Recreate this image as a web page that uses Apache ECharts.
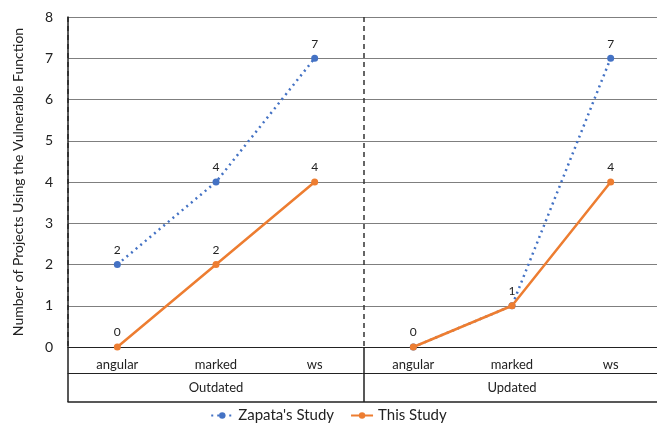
<!DOCTYPE html>
<html>
<head>
<meta charset="utf-8">
<script src="https://cdn.jsdelivr.net/npm/echarts@6/dist/echarts.min.js"></script>
<style>
  html, body { margin: 0; padding: 0; background: #fff; }
  #chart { width: 657px; height: 431px; }
</style>
</head>
<body>
<div id="chart"></div>
<script>
const categories = ["angular", "marked", "ws", "angular", "marked", "ws"];
const groups = ["Outdated", "Updated"];
const yTicks = [0, 1, 2, 3, 4, 5, 6, 7, 8];

// split per group so the line breaks between Outdated and Updated
const zapataOutdated = [2, 4, 7, null, null, null];
const zapataUpdated = [null, null, null, 0, 1, 7];
const thisOutdated = [0, 2, 4, null, null, null];
const thisUpdated = [null, null, null, 0, 1, 4];

const font = "Lato, 'Noto Sans', sans-serif";
const blue = "#4472C4";
const orange = "#ED7D31";

const chart = echarts.init(document.getElementById("chart"));

function lineSeries(name, data, color, dotted, z) {
  return {
    name: name,
    type: "line",
    xAxisIndex: 0,
    data: data,
    z: z,
    symbol: "circle",
    symbolSize: 7,
    connectNulls: false,
    itemStyle: { color: color },
    lineStyle: { color: color, width: 2.5, type: dotted ? [2, 4] : "solid" },
    label: {
      show: true,
      position: "top",
      distance: 5,
      color: "#222",
      fontSize: 12,
      fontFamily: font,
    },
    labelLayout: { hideOverlap: true },
  };
}

chart.setOption({
  animation: false,
  textStyle: { fontFamily: font },
  grid: { left: 68, right: -3, top: 17, bottom: 84, outerBoundsMode: "none", containLabel: false },
  legend: {
    bottom: 3,
    left: "center",
    itemGap: 16,
    itemWidth: 22,
    itemHeight: 8,
    textStyle: { fontSize: 15, color: "#222", fontFamily: font },
    data: ["Zapata's Study", "This Study"],
  },
  xAxis: [
    {
      type: "category",
      data: categories,
      position: "bottom",
      offset: 0,
      axisLine: { show: true, lineStyle: { color: "#222", width: 1 } },
      axisTick: { show: false },
      axisLabel: { margin: 11, fontSize: 13, color: "#222", fontFamily: font },
      splitLine: { show: false },
    },
    {
      type: "category",
      data: categories,
      position: "bottom",
      offset: 26,
      axisLine: { show: true, lineStyle: { color: "#222", width: 1 } },
      axisTick: { show: false },
      axisLabel: { show: false },
      splitLine: { show: false },
    },
    {
      type: "category",
      data: groups,
      position: "bottom",
      offset: 55,
      axisLine: { show: true, lineStyle: { color: "#222", width: 1.5 } },
      axisTick: { show: true, inside: true, length: 55, lineStyle: { color: "#222", width: 1.5 } },
      axisLabel: { inside: true, margin: 8, fontSize: 13, color: "#222", fontFamily: font },
      splitLine: { show: true, lineStyle: { color: "#333", width: 1.5, type: [5, 4] } },
    },
  ],
  yAxis: {
    type: "value",
    min: yTicks[0],
    max: yTicks[yTicks.length - 1],
    interval: 1,
    name: "Number of Projects Using the Vulnerable Function",
    nameLocation: "middle",
    nameGap: 43,
    nameTextStyle: { fontSize: 14, color: "#222", fontFamily: font },
    axisLine: { show: true, lineStyle: { color: "#222", width: 1.5 } },
    axisTick: { show: false },
    axisLabel: { margin: 15, fontSize: 14, color: "#222", fontFamily: font },
    splitLine: { show: true, lineStyle: { color: "#7f7f7f", width: 1 } },
  },
  series: [
    lineSeries("Zapata's Study", zapataOutdated, blue, true, 2),
    lineSeries("Zapata's Study", zapataUpdated, blue, true, 2),
    lineSeries("This Study", thisOutdated, orange, false, 3),
    lineSeries("This Study", thisUpdated, orange, false, 3),
  ],
});
</script>
</body>
</html>
